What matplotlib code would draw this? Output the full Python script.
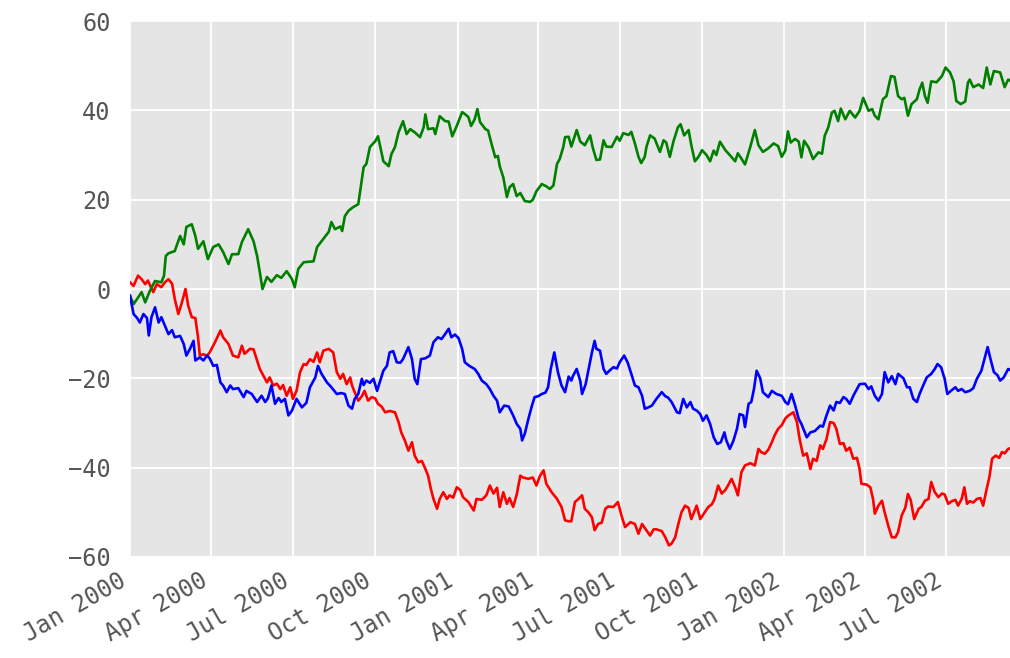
import matplotlib
matplotlib.use("Agg")
import matplotlib.pyplot as plt
import matplotlib.dates as mdates
import pandas as pd

# --- daily random walks, sampled (day offset from 2000-01-01, value) ---
green_days = [0, 4, 13, 17, 22, 28, 35, 38, 40, 43, 50, 56, 60, 63, 69, 73, 76, 82, 87, 93, 99, 104, 110, 114, 121, 125, 132, 138, 142, 145, 148, 153, 158, 164, 169, 175, 181, 184, 188, 194, 205, 209, 214, 222, 225, 229, 235, 237, 240, 244, 249, 255, 261, 264, 268, 274, 277, 279, 283, 289, 292, 296, 300, 305, 309, 313, 318, 324, 328, 330, 333, 339, 341, 346, 352, 356, 360, 365, 371, 374, 378, 381, 385, 388, 391, 397, 400, 404, 408, 411, 413, 417, 421, 424, 428, 432, 436, 441, 447, 450, 454, 460, 465, 469, 473, 477, 480, 484, 486, 490, 493, 499, 503, 508, 514, 517, 521, 525, 529, 532, 538, 544, 547, 551, 557, 560, 564, 568, 571, 575, 577, 581, 586, 592, 596, 599, 603, 607, 612, 615, 619, 624, 627, 631, 635, 639, 644, 648, 652, 655, 659, 665, 670, 676, 679, 683, 687, 693, 698, 702, 707, 713, 719, 724, 728, 732, 735, 738, 743, 747, 750, 753, 758, 763, 769, 773, 776, 780, 784, 787, 791, 794, 799, 804, 810, 815, 819, 825, 829, 832, 836, 841, 845, 850, 854, 858, 862, 865, 869, 873, 879, 882, 885, 888, 891, 895, 901, 907, 911, 916, 920, 923, 928, 933, 936, 938, 942, 948, 953, 957, 961, 965, 972, 977, 981, 985]
green_vals = [-1.5, -3.4, -0.7, -3, -0.5, 1.8, 1.5, 3, 7.4, 8, 8.5, 11.9, 10, 13.9, 14.5, 11.9, 9, 10.7, 6.7, 9.4, 10, 8.3, 5.6, 7.8, 7.8, 10.5, 13.4, 10.7, 7.4, 3.8, 0, 2.7, 1.6, 3.1, 2.5, 4, 2.2, 0.4, 4.5, 6, 6.2, 9.4, 10.7, 12.8, 15, 13.4, 14, 13, 16.3, 17.5, 18.3, 19, 27.3, 28, 31.8, 33.1, 34.2, 32.4, 28.6, 27.5, 30.2, 31.8, 35.1, 37.6, 34.7, 35.8, 35.1, 34, 36.2, 39.1, 35.8, 36, 34.7, 38.7, 37.6, 37.5, 34.2, 36.5, 39.6, 39.2, 38.5, 36.5, 38, 40.3, 37.4, 35.8, 35.5, 32.4, 29.5, 29.8, 27.5, 25, 20.6, 22.8, 23.5, 20.8, 21.5, 19.7, 19.5, 20, 21.9, 23.5, 23, 22.4, 23.2, 28, 29.1, 31.8, 34, 34.1, 31.9, 35.6, 33, 32.2, 34.4, 31.6, 28.9, 29, 33.3, 31.9, 31.8, 34.1, 33.2, 34.9, 34.5, 35.2, 32.6, 29.6, 28.2, 29.6, 31.9, 34.4, 33.7, 30.7, 33.3, 32.8, 29.6, 33, 36.2, 36.9, 34.4, 35.6, 32.2, 28.6, 29.6, 31.1, 30, 28.6, 31, 30, 33, 31.1, 30, 28.6, 30.4, 29.2, 27.9, 31.9, 35.6, 32.2, 30.7, 31.5, 32.6, 32, 29.6, 31, 35.3, 32.8, 33.6, 33, 29.5, 33.2, 31.7, 29.1, 30.6, 30.3, 34.3, 36.2, 39.5, 39.9, 37.6, 40.4, 38, 39.9, 38.4, 39.9, 42.8, 39.9, 40.3, 38.8, 38, 42.5, 43.2, 47.7, 47.5, 43.2, 42.5, 42.8, 38.8, 41.4, 42.5, 44.7, 46.2, 43.2, 41.7, 46.5, 46.3, 47.7, 49.6, 48.5, 46.5, 42.1, 41.4, 42, 46.2, 46.9, 45.2, 45.8, 45, 49.6, 45.8, 48.8, 48.5, 45.2, 46.9, 46.5]

red_days = [0, 4, 9, 13, 17, 20, 26, 30, 35, 39, 43, 47, 50, 54, 58, 62, 65, 69, 73, 76, 78, 82, 86, 89, 95, 101, 104, 110, 115, 121, 125, 128, 134, 138, 142, 145, 149, 153, 156, 160, 164, 168, 171, 175, 179, 182, 186, 190, 194, 197, 201, 205, 209, 212, 216, 222, 227, 231, 235, 238, 242, 246, 248, 251, 255, 259, 262, 266, 270, 274, 277, 281, 285, 290, 296, 300, 303, 307, 311, 315, 318, 322, 326, 330, 333, 336, 339, 343, 346, 350, 354, 357, 361, 365, 369, 372, 378, 384, 387, 393, 398, 402, 406, 410, 413, 417, 421, 424, 428, 432, 436, 439, 445, 450, 454, 458, 462, 465, 471, 477, 482, 486, 490, 493, 497, 501, 505, 508, 512, 516, 519, 523, 527, 531, 534, 540, 545, 549, 553, 559, 564, 568, 572, 575, 581, 585, 588, 594, 598, 602, 605, 609, 612, 616, 620, 624, 627, 633, 637, 642, 646, 650, 653, 657, 661, 665, 668, 672, 676, 679, 683, 687, 693, 698, 702, 705, 709, 713, 717, 720, 724, 728, 732, 735, 741, 745, 748, 752, 756, 760, 763, 767, 771, 774, 778, 782, 786, 789, 793, 797, 800, 804, 808, 812, 815, 817, 823, 827, 830, 832, 836, 840, 843, 847, 851, 855, 858, 862, 866, 869, 872, 876, 881, 884, 888, 892, 895, 899, 903, 907, 910, 914, 918, 922, 925, 929, 932, 935, 938, 942, 946, 950, 953, 957, 960, 963, 967, 971, 974, 977, 981, 985]
red_vals = [1.5, 0.7, 3, 2.2, 1.1, 1.9, -0.7, 1.1, 0.4, 1.5, 2.2, 1.2, -2.2, -5.6, -3, 0, -3.7, -6.3, -6.5, -10.8, -14.9, -14.6, -15, -14.2, -11.9, -9.3, -10.8, -12.3, -14.9, -15.3, -12.7, -14.5, -13.4, -13.5, -16, -17.9, -19.4, -20.9, -19.8, -21.6, -21.2, -22.4, -21.5, -23.9, -22, -24.6, -22.8, -18.6, -16.8, -17, -15.7, -16.3, -14.2, -16.4, -13.8, -13.4, -14.2, -18.6, -20.1, -19, -21.3, -19.8, -21.6, -23.1, -25, -24, -22.8, -25, -24.2, -24.5, -25.7, -26.3, -27.6, -27.3, -27.6, -29.8, -32.1, -33.9, -36.2, -34.3, -37.3, -38.8, -38.5, -40.3, -41.8, -44.7, -47, -49.2, -47, -45.5, -47, -46.2, -46.7, -44.4, -45, -46.6, -47.7, -49.6, -47, -47.2, -46.2, -44, -45.8, -44.5, -48.8, -45.5, -48.1, -46.8, -48.8, -46, -41.8, -42.2, -42.5, -42.2, -44, -41.8, -40.6, -43.6, -45.5, -47, -48.8, -51.8, -52, -52, -47.7, -47, -46.2, -49.2, -50, -51.1, -54, -52.6, -52.3, -49.2, -48.7, -48.8, -47.7, -50.7, -53.3, -52.2, -52.6, -54.8, -52.6, -53.5, -55.2, -53.8, -53.8, -54.2, -55.6, -57.4, -57, -55.6, -53, -50, -48.5, -49, -51.5, -48.5, -51.5, -50, -48.8, -48.2, -47, -44, -45.8, -45, -44, -42.5, -44.4, -46.2, -41, -39.5, -39, -39.5, -35.8, -36.5, -36.9, -36, -34.3, -32.8, -31.3, -30.5, -29, -28.4, -27.6, -29.8, -33.6, -37.3, -36.8, -40.3, -38, -38.5, -35, -35.8, -33.6, -29.8, -30, -31.3, -34.7, -34.5, -36.2, -35.5, -38, -37.8, -40.3, -43.6, -43.8, -44.4, -47, -50.3, -48.5, -47.4, -50, -53, -55.6, -55.6, -54.4, -50.7, -49, -45.9, -47.2, -51.5, -49.2, -48.8, -47.4, -47, -43.2, -45.5, -46.6, -45.8, -46, -48.1, -47.5, -47.2, -48.5, -47, -44.4, -48.1, -47.5, -47.8, -47, -46.8, -48.5, -44.7, -42.1, -38, -37.3, -37.8, -36.5, -36.8, -35.8, -35.5]

blue_days = [0, 4, 8, 11, 15, 19, 21, 24, 28, 32, 35, 39, 43, 47, 50, 56, 60, 63, 67, 71, 73, 78, 82, 86, 89, 93, 97, 101, 104, 108, 112, 115, 121, 127, 130, 136, 142, 147, 151, 154, 158, 162, 166, 169, 173, 177, 181, 186, 192, 197, 201, 207, 210, 214, 220, 225, 231, 236, 240, 244, 248, 251, 255, 259, 261, 264, 268, 272, 276, 279, 283, 287, 290, 294, 298, 302, 305, 311, 315, 318, 321, 325, 330, 335, 339, 344, 348, 352, 356, 359, 363, 367, 371, 374, 379, 385, 389, 393, 398, 402, 406, 410, 413, 418, 423, 428, 432, 436, 438, 441, 445, 449, 452, 456, 460, 464, 467, 470, 474, 478, 482, 486, 490, 493, 495, 499, 503, 505, 509, 513, 516, 519, 521, 525, 529, 532, 536, 540, 544, 547, 552, 556, 560, 564, 568, 572, 575, 579, 583, 588, 594, 598, 601, 605, 611, 614, 618, 622, 626, 629, 633, 637, 640, 644, 648, 652, 656, 660, 664, 666, 670, 674, 678, 681, 685, 687, 691, 694, 697, 700, 704, 707, 713, 717, 722, 728, 732, 735, 739, 743, 747, 750, 756, 760, 765, 771, 774, 778, 782, 786, 789, 793, 797, 800, 804, 808, 812, 815, 821, 825, 828, 832, 836, 840, 843, 847, 851, 855, 858, 864, 868, 871, 875, 879, 882, 886, 890, 895, 899, 902, 906, 910, 913, 917, 922, 925, 929, 933, 938, 942, 946, 951, 955, 958, 961, 965, 969, 972, 976, 981, 985]
blue_vals = [-1.5, -5.6, -6.5, -7.5, -5.6, -6.5, -10.4, -6.3, -4.1, -7.5, -6.3, -8.2, -10.1, -9.2, -10.8, -10.5, -12.3, -14.9, -13.4, -11.6, -16, -15.3, -16, -14.9, -15.5, -17.2, -17, -20.9, -21.6, -23.1, -21.6, -22.4, -22.2, -24.2, -22.8, -23.5, -25.3, -23.9, -25.3, -24.5, -21.6, -25.7, -24.4, -25.3, -24.6, -28.3, -27.2, -24.6, -26.5, -25.5, -22, -19.8, -17.2, -19, -20.9, -22, -23.5, -23.3, -23.5, -26.1, -26.8, -24.6, -23.5, -20.1, -21.5, -20.5, -21, -20.1, -22.8, -20.9, -18.3, -17.2, -14.2, -13.9, -16.4, -16.5, -15.7, -13, -15.7, -20.1, -21.3, -15.7, -15.5, -14.9, -11.9, -10.8, -11.2, -10.1, -8.9, -10.8, -10.2, -11, -13.4, -16.4, -17.2, -17.9, -19, -20.5, -21.3, -22.4, -23.9, -25, -27.6, -26.1, -26.3, -28.3, -30.2, -31.3, -33.9, -32.4, -29.1, -26.1, -24.2, -24, -23.5, -23.2, -22, -17.9, -14.2, -18.6, -21.6, -23.1, -19.6, -20.5, -19.4, -17.9, -20.6, -23.5, -21.3, -17.2, -14.2, -11.6, -13.4, -13.8, -17.9, -19, -18.2, -17.5, -17.8, -16.4, -14.9, -16.5, -19, -21.6, -22, -23.9, -26.8, -26.5, -26.1, -24.6, -23.1, -24, -24.3, -25.3, -27.6, -27.8, -24.6, -26.5, -25.3, -26.8, -27.2, -28, -29.5, -28.3, -30.2, -33.2, -34.7, -34.3, -32.1, -33.8, -35.8, -34, -31.3, -28, -28.3, -30.9, -25.7, -25.3, -22.4, -18.3, -20, -23.1, -24.2, -22.8, -23.5, -23.9, -25.3, -25.8, -23.5, -26.1, -29.1, -30.2, -33.2, -32.1, -31.8, -30.6, -30.8, -28.3, -26.1, -27.2, -25.3, -25.5, -24.2, -24.6, -25.7, -23.9, -22.4, -21.3, -21.2, -22.4, -21.8, -23.9, -25, -23.5, -18.6, -20.9, -19.5, -21.3, -19, -20, -22, -22, -24.6, -25.3, -23.5, -21.6, -19.8, -19, -17.9, -16.8, -17.5, -20.1, -23.5, -22.8, -22, -22.8, -22.4, -23.1, -22.8, -22.2, -20.1, -18.3, -15.3, -13, -15.5, -18.6, -19.3, -20.5, -19.8, -17.9, -18.3]

start = pd.Timestamp("2000-01-01")
x_end = start + pd.Timedelta(days=983)


def to_series(days, vals):
    idx = start + pd.to_timedelta(days, unit="D")
    return pd.Series(vals, index=idx)


series = [
    (to_series(red_days, red_vals), "red"),
    (to_series(green_days, green_vals), "green"),
    (to_series(blue_days, blue_vals), "blue"),
]

plt.style.use("ggplot")
plt.rcParams["font.family"] = ["DejaVu Sans Mono"]

fig = plt.figure(figsize=(10.1, 6.58), dpi=100)
ax = fig.add_axes([0.1287, 0.1535, 0.8713, 0.8145])

for s, c in series:
    ax.plot(s.index, s.values, color=c, linewidth=1.9)

ax.set_xlim(start, x_end)
ax.set_ylim(-60, 60)
ax.set_yticks([-60, -40, -20, 0, 20, 40, 60])

ax.xaxis.set_major_locator(mdates.MonthLocator(bymonth=[1, 4, 7, 10]))
ax.xaxis.set_major_formatter(mdates.DateFormatter("%b %Y"))
ax.grid(True, color="white", linewidth=1.3)
ax.set_facecolor("#E5E5E5")
for sp in ax.spines.values():
    sp.set_visible(False)

ax.tick_params(axis="both", length=0, labelsize=17, colors="#555555")
ax.tick_params(axis="y", pad=14)
ax.tick_params(axis="x", pad=8)
for lbl in ax.get_xticklabels():
    lbl.set_rotation(30)
    lbl.set_ha("right")

plt.savefig("out.png", dpi=100)
